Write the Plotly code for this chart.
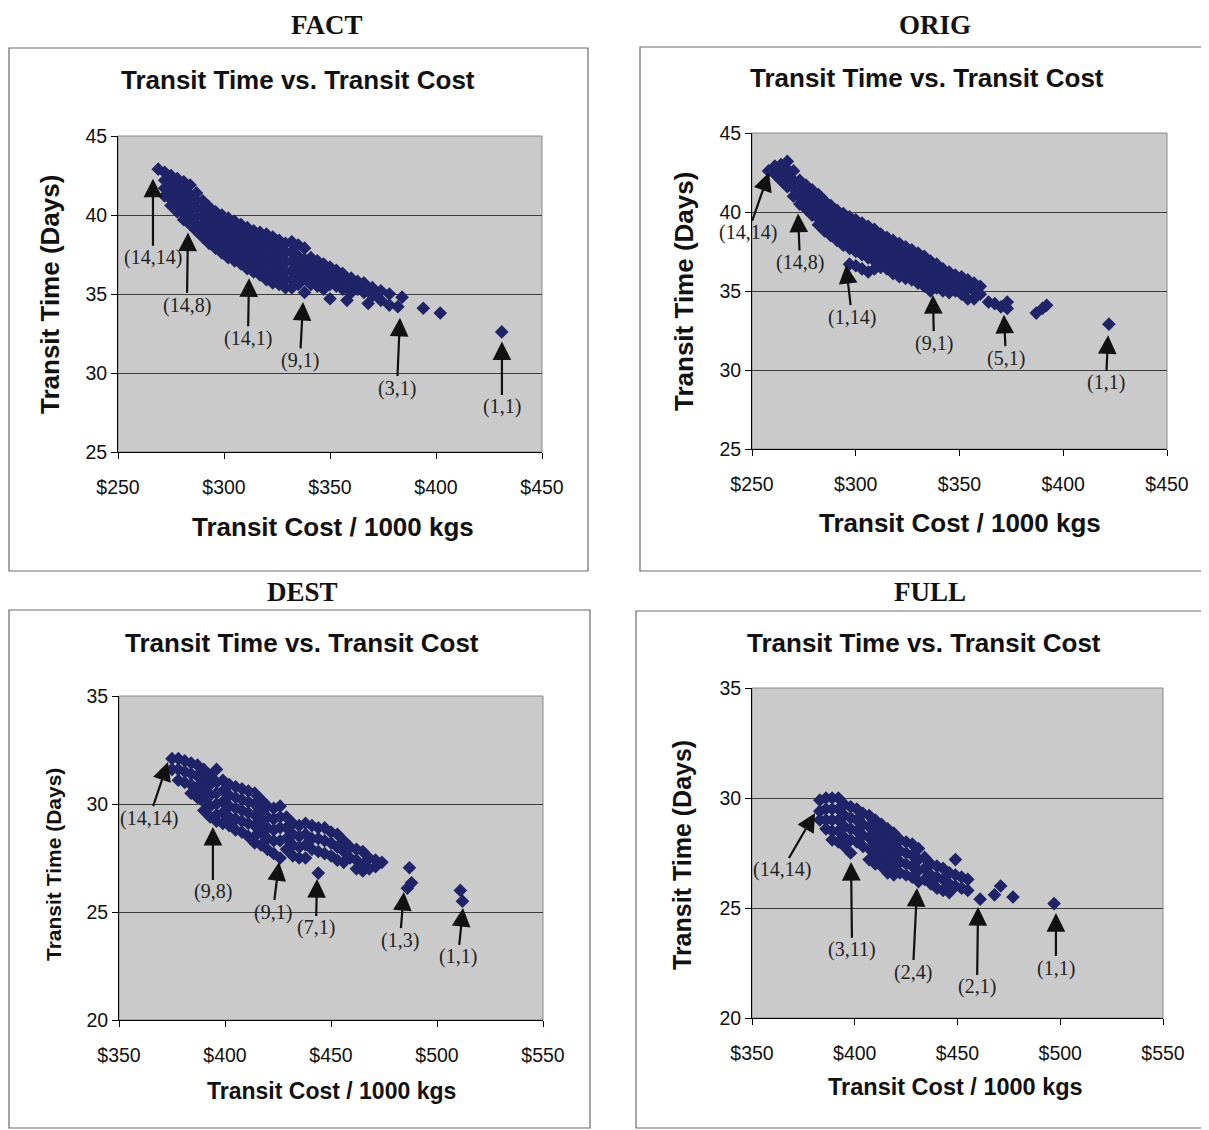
import plotly.graph_objects as go

# ---------------- data ----------------
panel_names = ["FACT", "ORIG", "DEST", "FULL"]
subtitle = "Transit Time vs. Transit Cost"
x_title = "Transit Cost / 1000 kgs"
y_title = "Transit Time (Days)"

fact_cost = [269, 272, 275, 278, 281, 284, 287, 290, 293, 296, 299, 302, 305, 308, 311, 314, 317, 320,
             323, 326, 329, 332, 335, 338, 341, 344, 347, 350, 353, 356, 358, 360, 363, 366, 368, 370,
             374, 378, 382, 384, 394, 402, 431]
fact_time = [[42.9], [42.7, 42.2, 41.7, 41.2], [42.5, 42.0, 41.5, 41.0, 40.6], [42.3, 41.8, 41.3, 40.8, 40.2],
             [42.1, 41.6, 41.1, 40.6, 40.1, 39.7], [41.9, 41.3, 40.8, 40.3, 39.8, 39.4],
             [41.4, 40.9, 40.4, 39.9, 39.4, 39.0], [40.9, 40.4, 39.9, 39.4, 38.9, 38.6],
             [40.5, 40.0, 39.5, 39.0, 38.5, 38.2], [40.2, 39.7, 39.2, 38.7, 38.2, 37.9],
             [40.0, 39.5, 39.0, 38.5, 38.0, 37.6], [39.8, 39.3, 38.8, 38.3, 37.8, 37.3],
             [39.6, 39.1, 38.6, 38.1, 37.6, 37.1], [39.4, 38.9, 38.4, 37.9, 37.4, 36.9],
             [39.2, 38.7, 38.2, 37.7, 37.2, 36.6], [39.0, 38.5, 38.0, 37.5, 37.0, 36.4],
             [38.9, 38.4, 37.9, 37.3, 36.7, 36.2], [38.8, 38.2, 37.6, 37.0, 36.4, 35.9],
             [38.6, 38.0, 37.4, 36.8, 36.2, 35.7], [38.4, 37.8, 37.2, 36.6, 36.0, 35.6],
             [38.2, 37.6, 37.0, 36.4, 35.9, 35.4], [38.3, 37.7, 37.1, 36.5, 35.9, 35.4],
             [38.1, 37.4, 36.8, 36.2, 35.6], [37.9, 37.2, 36.6, 36.0, 35.1], [37.3, 36.8, 36.2, 35.6],
             [37.1, 36.6, 36.0, 35.5], [36.9, 36.4, 35.9, 35.3], [36.7, 36.2, 35.6, 34.7],
             [36.5, 36.0, 35.5], [36.3, 35.8, 35.3], [34.6], [36.0, 35.5, 35.1], [35.8, 35.3],
             [35.7, 35.1], [34.4], [35.4, 34.9], [35.2, 34.6], [35.0, 34.3], [34.2], [34.8], [34.1],
             [33.8], [32.6]]

orig_cost = [258, 261, 264, 267, 270, 273, 276, 279, 282, 285, 288, 291, 294, 297, 300, 303, 306, 309,
             312, 315, 318, 321, 324, 327, 330, 333, 336, 339, 342, 345, 348, 351, 354, 357, 360, 364,
             367, 370, 373, 387, 390, 392, 422]
orig_time = [[42.6], [42.9, 42.4], [43.0, 42.5, 42.0], [43.2, 42.7, 42.2, 41.6], [42.6, 42.0, 41.5, 41.0],
             [42.0, 41.5, 41.0, 40.5], [41.7, 41.2, 40.7, 40.2], [41.4, 40.9, 40.4, 39.8],
             [41.1, 40.6, 40.1, 39.6, 39.2], [40.7, 40.2, 39.7, 39.2, 38.8], [40.4, 39.9, 39.4, 38.9, 38.5],
             [40.1, 39.6, 39.1, 38.6, 38.2], [39.9, 39.4, 38.9, 38.4, 37.9],
             [39.7, 39.2, 38.7, 38.2, 37.7, 36.7], [39.5, 39.0, 38.5, 38.0, 37.5, 36.6],
             [39.3, 38.8, 38.3, 37.8, 37.3, 36.4], [39.1, 38.6, 38.1, 37.6, 37.1, 36.2],
             [38.9, 38.4, 37.9, 37.4, 36.9, 36.4], [38.6, 38.1, 37.6, 37.1, 36.5],
             [38.4, 37.9, 37.4, 36.9, 36.4], [38.2, 37.7, 37.2, 36.7, 36.1], [38.0, 37.5, 37.0, 36.5, 35.9],
             [37.8, 37.3, 36.8, 36.3, 35.8], [37.6, 37.1, 36.6, 36.1, 35.7], [37.4, 36.9, 36.4, 35.9, 35.5],
             [37.2, 36.7, 36.2, 35.7, 35.3], [36.9, 36.4, 35.9, 35.4, 35.0], [36.7, 36.2, 35.7, 35.2],
             [36.4, 35.9, 35.4, 35.0], [36.2, 35.7, 35.2, 34.9], [36.0, 35.5, 35.0], [35.9, 35.4, 34.8],
             [35.7, 35.2, 34.5], [35.5, 35.0, 34.5], [35.3, 34.8], [34.3], [34.2], [34.0], [34.3, 33.9],
             [33.6], [33.9], [34.1], [32.9]]

dest_cost = [375, 378, 381, 384, 387, 390, 393, 396, 399, 402, 405, 408, 411, 414, 417, 420, 423, 426,
             429, 432, 435, 438, 441, 444, 447, 450, 453, 456, 459, 462, 465, 468, 471, 474, 486, 487,
             488, 511, 512]
dest_time = [[32.1, 31.6], [32.1, 31.6, 31.1], [32.0, 31.5, 31.0], [31.9, 31.4, 30.9, 30.5],
             [31.8, 31.3, 30.8, 30.3], [31.6, 31.1, 30.6, 30.1, 29.7], [31.3, 30.9, 30.4, 29.9, 29.4],
             [31.6, 31.0, 30.5, 30.0, 29.5, 29.2], [31.1, 30.6, 30.1, 29.6, 29.1],
             [30.9, 30.4, 29.9, 29.4, 29.0], [30.8, 30.3, 29.8, 29.3, 28.8], [30.7, 30.2, 29.7, 29.2, 28.7],
             [30.6, 30.1, 29.6, 29.1, 28.5], [30.5, 30.0, 29.5, 29.0, 28.5, 28.2],
             [30.2, 29.7, 29.2, 28.7, 28.1], [29.9, 29.4, 28.9, 28.4, 27.9], [29.8, 29.3, 28.8, 28.3, 27.7],
             [29.9, 29.4, 28.9, 28.3, 27.5], [29.4, 28.9, 28.4, 27.9], [29.1, 28.6, 28.1, 27.6],
             [29.0, 28.5, 28.0, 27.5], [29.1, 28.6, 28.1, 27.5], [29.0, 28.4, 27.9],
             [28.9, 28.4, 27.8, 26.8], [28.9, 28.3, 27.7], [28.7, 28.2, 27.6], [28.6, 28.0, 27.4],
             [28.3, 27.8, 27.3], [28.0, 27.5], [27.9, 27.4, 27.0], [27.8, 27.2, 26.9], [27.5, 27.0],
             [27.4, 27.1], [27.3], [26.1], [27.05], [26.35], [26.0], [25.5]]

full_cost = [383, 386, 389, 392, 395, 398, 401, 404, 407, 410, 413, 416, 419, 422, 425, 428, 431, 434,
             437, 440, 443, 446, 449, 452, 455, 461, 468, 471, 477, 497]
full_time = [[29.9, 29.4, 29.0], [30.0, 29.5, 29.0, 28.6], [30.0, 29.5, 29.0, 28.5, 28.1],
             [30.0, 29.5, 29.0, 28.5, 28.0], [29.7, 29.2, 28.7, 28.2, 27.8], [29.6, 29.1, 28.6, 28.1, 27.5],
             [29.5, 29.0, 28.5, 28.0], [29.3, 28.8, 28.3, 27.8], [29.2, 28.7, 28.2, 27.7, 27.2],
             [29.0, 28.5, 28.0, 27.5, 27.0], [28.8, 28.3, 27.8, 27.3, 26.9], [28.6, 28.1, 27.6, 27.1, 26.6],
             [28.4, 27.9, 27.4, 26.9, 26.5], [28.1, 27.6, 27.1, 26.6], [28.0, 27.5, 27.0, 26.5],
             [27.9, 27.4, 26.9, 26.4], [27.7, 27.2, 26.7, 26.2], [27.3, 26.8, 26.3], [27.0, 26.5, 26.1],
             [26.9, 26.4, 25.9], [26.8, 26.3, 25.8], [26.6, 26.1, 25.7], [27.2, 26.5, 26.0], [26.4, 25.9],
             [26.3, 25.8], [25.4], [25.6], [26.0], [25.5], [25.2]]

# annotations: label text, arrow tip (cost, time), label position (cost, time)
fact_labels = ["(14,14)", "(14,8)", "(14,1)", "(9,1)", "(3,1)", "(1,1)"]
fact_tip_cost = [266.5, 283.0, 311.8, 337.3, 383.0, 431.1]
fact_tip_time = [42.3, 38.9, 36.0, 34.5, 33.5, 32.0]
fact_lab_cost = [266.5, 282.5, 311.3, 335.8, 381.6, 431.1]
fact_lab_time = [37.3, 34.3, 32.2, 30.8, 29.05, 27.85]

orig_labels = ["(14,14)", "(14,8)", "(1,14)", "(9,1)", "(5,1)", "(1,1)"]
orig_tip_cost = [258.2, 272.2, 295.3, 337.2, 371.4, 421.6]
orig_tip_time = [42.5, 39.9, 36.65, 34.75, 33.5, 32.2]
orig_lab_cost = [248.1, 273.1, 298.2, 337.7, 372.4, 420.6]
orig_lab_time = [38.7, 36.8, 33.35, 31.7, 30.75, 29.2]

dest_labels = ["(14,14)", "(9,8)", "(9,1)", "(7,1)", "(1,3)", "(1,1)"]
dest_tip_cost = [373.1, 394.3, 425.5, 443.4, 484.4, 512.3]
dest_tip_time = [31.94, 28.94, 27.31, 26.53, 25.93, 25.19]
dest_lab_cost = [364.2, 394.3, 422.6, 442.9, 482.5, 509.9]
dest_lab_time = [29.35, 25.93, 25.0, 24.26, 23.7, 22.92]

full_labels = ["(14,14)", "(3,11)", "(2,4)", "(2,1)", "(1,1)"]
full_tip_cost = [380.7, 398.2, 430.3, 460.0, 497.9]
full_tip_time = [29.32, 27.09, 25.91, 25.05, 24.77]
full_lab_cost = [364.6, 398.7, 428.3, 459.5, 497.9]
full_lab_time = [26.73, 23.1, 22.09, 21.41, 22.27]

x_ranges = [[250, 450], [250, 450], [350, 550], [350, 550]]
y_ranges = [[25, 45], [25, 45], [20, 35], [20, 35]]

# ---------------- layout (pixel geometry, page coordinates) ----------------
PAGE_W, PAGE_H = 1209, 1130
OFF = 8                      # default body margin of the html page
W, H = PAGE_W - OFF, PAGE_H - OFF
plot_px = [(118, 542, 136, 452), (752, 1167, 133, 449), (119, 543, 696, 1020), (752, 1163, 688, 1018)]
box_px = [(9, 588, 48, 571), (640, 1207, 47, 571), (9, 590, 610, 1128), (636, 1205, 611, 1128)]
# panel names: (x centre, y top) in page pixels
name_px = [(327, 8), (935, 8), (302, 575), (930, 575)]
sub_px = [(298, 80), (927, 78), (302, 643), (924, 643)]
xt_px = [(333, 527), (960, 523), (331, 1091), (955, 1087)]
yt_px = [(50, 295), (684, 292), (53, 865), (682, 855)]
xt_size = [26, 26, 23, 23.5]
yt_size = [26, 26, 21, 25]

def px(x):
    return (x - OFF) / W

def py(y):
    return 1 - (y - OFF) / H

panels = [
    (fact_cost, fact_time, fact_labels, fact_tip_cost, fact_tip_time, fact_lab_cost, fact_lab_time),
    (orig_cost, orig_time, orig_labels, orig_tip_cost, orig_tip_time, orig_lab_cost, orig_lab_time),
    (dest_cost, dest_time, dest_labels, dest_tip_cost, dest_tip_time, dest_lab_cost, dest_lab_time),
    (full_cost, full_time, full_labels, full_tip_cost, full_tip_time, full_lab_cost, full_lab_time),
]

MARK = "#1f2468"
SANS = "Liberation Sans, Arial, sans-serif"
SERIF = "Liberation Serif, Times New Roman, serif"

fig = go.Figure()
annotations = []
shapes = []
layout = {}

for i, (cost, time, labels, tc, tt, lc, lt) in enumerate(panels):
    n = i + 1
    xa = "x" if n == 1 else f"x{n}"
    ya = "y" if n == 1 else f"y{n}"
    xs, ys = [], []
    for c, col in zip(cost, time):
        for t in col:
            xs.append(c)
            ys.append(t)
    fig.add_trace(go.Scatter(
        x=xs, y=ys, mode="markers", xaxis=xa, yaxis=ya, showlegend=False,
        marker=dict(symbol="diamond", size=10.5, color=MARK, line=dict(width=0)),
        hoverinfo="x+y"))

    x0, x1, y0, y1 = plot_px[i]
    layout["xaxis" if n == 1 else f"xaxis{n}"] = dict(
        domain=[px(x0), px(x1)], anchor=ya, range=x_ranges[i], dtick=50, tickprefix="$",
        showgrid=False, zeroline=False, showline=True, linecolor="black", linewidth=1,
        ticks="outside", ticklen=6, tickcolor="black", ticklabelstandoff=12, automargin=False,
        tickfont=dict(family=SANS, size=19.5, color="#111"), fixedrange=True)
    layout["yaxis" if n == 1 else f"yaxis{n}"] = dict(
        domain=[py(y1), py(y0)], anchor=xa, range=y_ranges[i], dtick=5,
        showgrid=True, gridcolor="#3c3c3c", gridwidth=1, zeroline=False,
        showline=True, linecolor="black", linewidth=1, automargin=False,
        ticks="outside", ticklen=6, tickcolor="black",
        tickfont=dict(family=SANS, size=19.5, color="#111"), fixedrange=True)

    # plot area background + border
    shapes.append(dict(type="rect", xref=f"{xa} domain", yref=f"{ya} domain", x0=0, x1=1, y0=0, y1=1,
                       fillcolor="#cacaca", line=dict(color="#8a8a8a", width=1), layer="below"))
    # outer chart box
    bx0, bx1, by0, by1 = box_px[i]
    shapes.append(dict(type="rect", xref="paper", yref="paper", x0=px(bx0), x1=px(bx1),
                       y0=py(by1), y1=py(by0), line=dict(color="#6a6a6a", width=1.2),
                       fillcolor="rgba(0,0,0,0)", layer="below"))

    annotations.append(dict(text=f"<b>{panel_names[i]}</b>", x=px(name_px[i][0]), y=py(name_px[i][1]),
                            xref="paper", yref="paper", showarrow=False, xanchor="center", yanchor="top",
                            font=dict(family=SERIF, size=27, color="#111")))
    annotations.append(dict(text=f"<b>{subtitle}</b>", x=px(sub_px[i][0]), y=py(sub_px[i][1]),
                            xref="paper", yref="paper", showarrow=False, xanchor="center", yanchor="middle",
                            font=dict(family=SANS, size=26, color="#111")))
    annotations.append(dict(text=f"<b>{x_title}</b>", x=px(xt_px[i][0]), y=py(xt_px[i][1]),
                            xref="paper", yref="paper", showarrow=False, xanchor="center", yanchor="middle",
                            font=dict(family=SANS, size=xt_size[i], color="#111")))
    annotations.append(dict(text=f"<b>{y_title}</b>", x=px(yt_px[i][0]), y=py(yt_px[i][1]),
                            xref="paper", yref="paper", showarrow=False, xanchor="center", yanchor="middle",
                            textangle=-90, font=dict(family=SANS, size=yt_size[i], color="#111")))

    for lab, a, b, c, d in zip(labels, tc, tt, lc, lt):
        annotations.append(dict(
            text=lab, x=a, y=b, xref=xa, yref=ya, ax=c, ay=d, axref=xa, ayref=ya,
            showarrow=True, arrowhead=2, arrowsize=1.7, arrowwidth=2.2, arrowcolor="#111",
            standoff=0, borderpad=0,
            font=dict(family=SERIF, size=20, color="#222")))

fig.update_layout(
    width=W, height=H, autosize=False,
    margin=dict(l=0, r=0, t=0, b=0, pad=0, autoexpand=False),
    paper_bgcolor="white", plot_bgcolor="rgba(0,0,0,0)",
    annotations=annotations, shapes=shapes,
    **layout)

fig.write_html("out.html")
